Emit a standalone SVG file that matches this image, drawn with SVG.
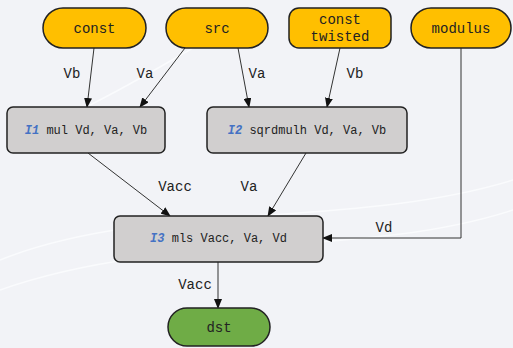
<svg xmlns="http://www.w3.org/2000/svg" width="513" height="348" viewBox="0 0 513 348">
<defs>
<marker id="ah" markerWidth="10" markerHeight="8" refX="9" refY="4" orient="auto" markerUnits="userSpaceOnUse">
<path d="M0,0 L10,4 L0,8 Z" fill="#111"/>
</marker>
<style>
.src{fill:#ffbf00;stroke:#222;stroke-width:1.5}
.ins{fill:#d1cfcf;stroke:#222;stroke-width:1.5}
.dst{fill:#6fac46;stroke:#222;stroke-width:1.5}
.t{font-family:"Liberation Mono",monospace;fill:#222;text-anchor:middle}
.big{font-size:14px}
.small{font-size:12px}
.id{fill:#4472c4;font-weight:bold;font-style:italic}
.e{fill:none;stroke:#333;stroke-width:1;marker-end:url(#ah)}
.lbl{font-family:"Liberation Mono",monospace;font-size:14px;fill:#222;text-anchor:middle}
</style>
</defs>
<rect width="513" height="348" fill="#f2f3f7"/>
<path d="M0,260 C150,200 350,230 513,180" fill="none" stroke="#fafbfd" stroke-width="1.5"/>
<path d="M0,290 C170,230 360,260 513,210" fill="none" stroke="#fafbfd" stroke-width="1.5"/>
<path d="M90,105 C160,70 200,40 250,20" fill="none" stroke="#fafbfd" stroke-width="1.5"/>
<g id="connectors">
<path class="e" d="M94,48 L87,107"/>
<path class="e" d="M185,48 L140,107"/>
<path class="e" d="M238,48 L249,107"/>
<path class="e" d="M340,48 L327,107"/>
<path class="e" d="M88,153 L170,216"/>
<path class="e" d="M306,153 L268,216"/>
<path class="e" d="M461,48 L461,238 L323,238"/>
<path class="e" d="M218,262 L218,308"/>
<text class="lbl" x="72" y="78">Vb</text>
<text class="lbl" x="145" y="78">Va</text>
<text class="lbl" x="257" y="78">Va</text>
<text class="lbl" x="355" y="78">Vb</text>
<text class="lbl" x="175" y="191">Vacc</text>
<text class="lbl" x="249" y="191">Va</text>
<text class="lbl" x="384" y="232">Vd</text>
<text class="lbl" x="195" y="289">Vacc</text>
</g>
<g id="const">
<rect class="src" x="43" y="8" width="103" height="40" rx="20"/>
<text class="t big" x="94.5" y="33">const</text>
</g>
<g id="src">
<rect class="src" x="166" y="8" width="102" height="40" rx="20"/>
<text class="t big" x="217" y="33">src</text>
</g>
<g id="const_twisted">
<rect class="src" x="289" y="8" width="102" height="40" rx="10"/>
<text class="t big" x="340" y="24">const</text>
<text class="t big" x="340" y="41">twisted</text>
</g>
<g id="modulus">
<rect class="src" x="411" y="8" width="100" height="40" rx="20"/>
<text class="t big" x="461" y="33">modulus</text>
</g>
<g id="I1">
<rect class="ins" x="7" y="107" width="158" height="46" rx="6"/>
<text class="t small" x="86" y="134"><tspan class="id">I1</tspan> mul Vd, Va, Vb</text>
</g>
<g id="I2">
<rect class="ins" x="207" y="107" width="200" height="46" rx="6"/>
<text class="t small" x="307" y="134"><tspan class="id">I2</tspan> sqrdmulh Vd, Va, Vb</text>
</g>
<g id="I3">
<rect class="ins" x="114" y="216" width="209" height="46" rx="6"/>
<text class="t small" x="218.5" y="242"><tspan class="id">I3</tspan> mls Vacc, Va, Vd</text>
</g>
<g id="dst">
<rect class="dst" x="168" y="308" width="102" height="38" rx="19"/>
<text class="t big" x="219" y="332">dst</text>
</g>
</svg>
